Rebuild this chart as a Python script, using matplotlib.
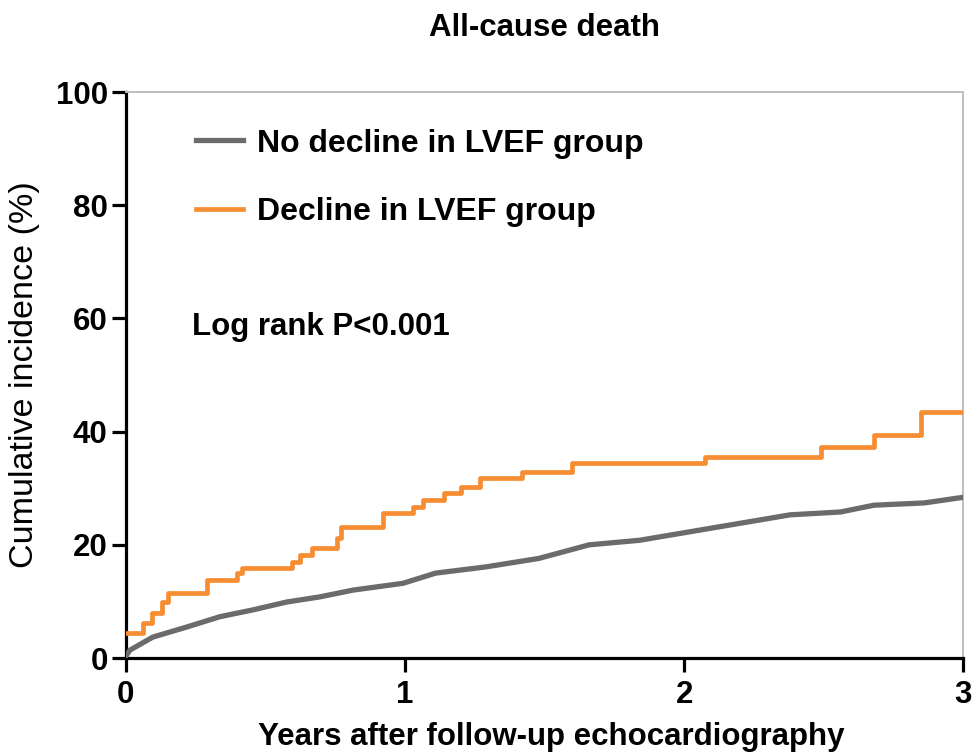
import matplotlib
matplotlib.use("Agg")
import matplotlib.pyplot as plt

plt.rcParams['font.family'] = ['Liberation Sans', 'DejaVu Sans']

# Cumulative incidence of all-cause death (%) by years after follow-up echo
decline_years = [0, 0.061, 0.093, 0.129, 0.15, 0.29, 0.40, 0.416, 0.595, 0.624,
                 0.666, 0.755, 0.77, 0.92, 1.03, 1.065, 1.14, 1.20, 1.27, 1.42,
                 1.60, 2.075, 2.49, 2.68, 2.85, 3.0]
decline_pct = [4.4, 6.2, 8.0, 9.9, 11.5, 13.8, 15.0, 15.9, 17.0, 18.2,
               19.4, 21.2, 23.1, 25.6, 26.7, 27.9, 29.1, 30.2, 31.8, 32.9,
               34.4, 35.6, 37.3, 39.4, 43.5, 43.5]

no_decline_years = [0, 0.015, 0.097, 0.22, 0.337, 0.455, 0.577, 0.695, 0.814,
                    0.993, 1.11, 1.29, 1.48, 1.66, 1.84, 2.02, 2.20, 2.38,
                    2.56, 2.68, 2.86, 3.0]
no_decline_pct = [0.3, 1.4, 3.7, 5.5, 7.3, 8.5, 9.9, 10.8, 12.0,
                  13.2, 15.0, 16.1, 17.6, 20.0, 20.8, 22.3, 23.8, 25.3,
                  25.8, 27.0, 27.4, 28.4]

x_ticks = [0, 1, 2, 3]
y_ticks = [0, 20, 40, 60, 80, 100]

GRAY = "#6b6b6b"
ORANGE = "#f78d32"

fig = plt.figure(figsize=(9.75, 7.56), dpi=100)
ax = fig.add_axes([0.129, 0.1296, 0.859, 0.7487])

ax.plot(no_decline_years, no_decline_pct, color=GRAY, lw=3.8,
        solid_joinstyle="round", label="No decline in LVEF group", zorder=3)
ax.step(decline_years, decline_pct, where="post", color=ORANGE, lw=3.4,
        label="Decline in LVEF group", zorder=4)

ax.set_xlim(0, 3)
ax.set_ylim(0, 100)
ax.set_xticks(x_ticks)
ax.set_yticks(y_ticks)

for side in ("left", "bottom"):
    ax.spines[side].set_linewidth(2.3)
    ax.spines[side].set_color("black")
for side in ("top", "right"):
    ax.spines[side].set_linewidth(1.4)
    ax.spines[side].set_color("#bdbdbd")

ax.tick_params(axis="both", which="major", direction="out", length=10,
               width=2.3, color="black", labelsize=22.5)
ax.tick_params(axis="y", pad=3)
ax.tick_params(axis="x", pad=6)
for lbl in ax.get_xticklabels() + ax.get_yticklabels():
    lbl.set_fontweight("bold")

ax.set_xlabel("Years after follow-up echocardiography", fontsize=22.5,
              fontweight="bold")
ax.xaxis.set_label_coords(0.508, -0.113)
ax.set_ylabel("Cumulative incidence (%)", fontsize=24.5, labelpad=11)
ax.set_title("All-cause death", fontsize=22.5, fontweight="bold", pad=40)

leg = ax.legend(loc="upper left", bbox_to_anchor=(0.069, 0.958), frameon=False,
                prop={"size": 23, "weight": "bold"}, handlelength=1.45,
                handletextpad=0.45, labelspacing=1.2, borderaxespad=0)

ax.text(0.237, 58.5, "Log rank P<0.001", fontsize=22.5, fontweight="bold",
        ha="left", va="center")

fig.savefig("out.png", dpi=100)
